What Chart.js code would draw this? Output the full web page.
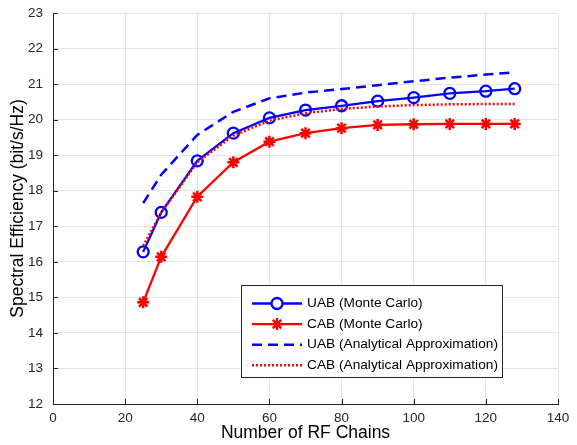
<!DOCTYPE html>
<html>
<head>
<meta charset="utf-8">
<script src="https://cdn.jsdelivr.net/npm/chart.js@4.4.1/dist/chart.umd.min.js"></script>
<style>
  html, body { margin: 0; padding: 0; background: #fff; }
  #wrap { width: 577px; height: 445px; }
</style>
</head>
<body>
<div id="wrap"><canvas id="myChart" width="577" height="445"></canvas></div>
<script>
// data
const chains = [25, 30, 40, 50, 60, 70, 80, 90, 100, 110, 120, 128];
const uabMonteCarlo = [16.28, 17.39, 18.84, 19.62, 20.05, 20.27, 20.39, 20.52, 20.62, 20.74, 20.80, 20.87];
const cabMonteCarlo = [14.86, 16.14, 17.83, 18.80, 19.38, 19.62, 19.76, 19.85, 19.87, 19.88, 19.88, 19.88];
const uabAnalytical = [17.65, 18.45, 19.57, 20.22, 20.60, 20.76, 20.86, 20.97, 21.08, 21.18, 21.27, 21.33];
const cabAnalytical = [16.45, 17.38, 18.80, 19.55, 19.97, 20.18, 20.30, 20.37, 20.41, 20.43, 20.44, 20.44];

const labels = [
  "UAB (Monte Carlo)",
  "CAB (Monte Carlo)",
  "UAB (Analytical Approximation)",
  "CAB (Analytical Approximation)"
];

const FONT = "'Liberation Sans', Arial, sans-serif";
const AXIS = "#262626";

function pts(ys) {
  return chains.map((x, i) => ({ x: x, y: ys[i] }));
}

// matlab style inward ticks
const innerTicks = {
  id: "innerTicks",
  afterDraw(chart) {
    const ctx = chart.ctx;
    const xs = chart.scales.x, ys = chart.scales.y;
    const a = chart.chartArea;
    ctx.save();
    ctx.strokeStyle = AXIS;
    ctx.lineWidth = 1;
    ctx.beginPath();
    xs.ticks.forEach(t => {
      const px = Math.round(xs.getPixelForValue(t.value)) + 0.5;
      ctx.moveTo(px, a.bottom);
      ctx.lineTo(px, a.bottom - 5);
    });
    ys.ticks.forEach(t => {
      const py = Math.round(ys.getPixelForValue(t.value)) + 0.5;
      ctx.moveTo(a.left, py);
      ctx.lineTo(a.left + 5, py);
    });
    ctx.stroke();
    ctx.restore();
  }
};

// legend box inside the plot, like the matlab one
const boxLegend = {
  id: "boxLegend",
  afterDraw(chart) {
    const ctx = chart.ctx;
    const bx = 241.5, by = 285.5, bw = 261, bh = 92;
    ctx.save();
    ctx.fillStyle = "#fff";
    ctx.fillRect(bx, by, bw, bh);
    ctx.strokeStyle = AXIS;
    ctx.lineWidth = 1;
    ctx.strokeRect(bx, by, bw, bh);

    chart.data.datasets.forEach((ds, i) => {
      const y = 303.5 + i * 20.6;
      ctx.strokeStyle = ds.borderColor;
      ctx.lineWidth = ds.borderWidth;
      ctx.setLineDash(ds.borderDash || []);
      ctx.beginPath();
      ctx.moveTo(252, y);
      ctx.lineTo(302, y);
      ctx.stroke();
      ctx.setLineDash([]);
      const cx = 277, r = ds.pointRadius;
      if (ds.pointStyle === "circle" && r > 0) {
        ctx.fillStyle = "#fff";
        ctx.beginPath();
        ctx.arc(cx, y, r, 0, Math.PI * 2);
        ctx.fill();
        ctx.stroke();
      } else if (ds.pointStyle === "star" && r > 0) {
        ctx.beginPath();
        for (let k = 0; k < 4; k++) {
          const ang = k * Math.PI / 4;
          ctx.moveTo(cx - Math.cos(ang) * r, y - Math.sin(ang) * r);
          ctx.lineTo(cx + Math.cos(ang) * r, y + Math.sin(ang) * r);
        }
        ctx.stroke();
      }
      ctx.fillStyle = "#000";
      ctx.font = "13.7px " + FONT;
      ctx.textBaseline = "middle";
      ctx.fillText(labels[i], 307, y);
    });
    ctx.restore();
  }
};

const ctx = document.getElementById("myChart").getContext("2d");

new Chart(ctx, {
  type: "line",
  data: {
    datasets: [
      {
        label: labels[0],
        data: pts(uabMonteCarlo),
        borderColor: "#0000ff",
        backgroundColor: "rgba(0,0,0,0)",
        borderWidth: 2.3,
        pointStyle: "circle",
        pointRadius: 5.5,
        pointBorderWidth: 2.3,
        pointBackgroundColor: "rgba(0,0,0,0)",
        pointBorderColor: "#0000ff",
        order: 1
      },
      {
        label: labels[1],
        data: pts(cabMonteCarlo),
        borderColor: "#ff0000",
        backgroundColor: "rgba(0,0,0,0)",
        borderWidth: 2.3,
        pointStyle: "star",
        pointRadius: 6,
        pointBorderWidth: 2.5,
        pointBorderColor: "#ff0000",
        order: 2
      },
      {
        label: labels[2],
        data: pts(uabAnalytical),
        borderColor: "#0000ff",
        backgroundColor: "rgba(0,0,0,0)",
        borderWidth: 2.5,
        borderDash: [10, 6],
        pointRadius: 0,
        order: 3
      },
      {
        label: labels[3],
        data: pts(cabAnalytical),
        borderColor: "#ff0000",
        backgroundColor: "rgba(0,0,0,0)",
        borderWidth: 2.5,
        borderDash: [2, 2],
        pointRadius: 0,
        order: 0
      }
    ]
  },
  options: {
    responsive: false,
    animation: false,
    layout: { padding: { left: 0, right: 19, top: 13, bottom: 0 } },
    plugins: {
      legend: { display: false },
      tooltip: { enabled: false }
    },
    scales: {
      x: {
        type: "linear",
        min: 0,
        max: 140,
        ticks: { stepSize: 20, color: AXIS, font: { family: FONT, size: 13.5 }, padding: 6, maxRotation: 0 },
        grid: { color: "#e5e5e5", drawTicks: false },
        border: { color: AXIS, width: 1 },
        title: { display: true, text: "Number of RF Chains", color: "#000", font: { family: FONT, size: 17.5 }, padding: { top: 0, bottom: 1 } },
        afterFit(scale) { scale.height = 41; scale.paddingLeft = 0; scale.paddingRight = 0; }
      },
      y: {
        min: 12,
        max: 23,
        ticks: { stepSize: 1, color: AXIS, font: { family: FONT, size: 13.5 }, padding: 10 },
        grid: { color: "#e5e5e5", drawTicks: false },
        border: { color: AXIS, width: 1 },
        title: { display: true, text: "Spectral Efficiency (bit/s/Hz)", color: "#000", font: { family: FONT, size: 17.5 }, padding: { top: 8, bottom: 0 } },
        afterFit(scale) { scale.width = 53; scale.paddingTop = 0; scale.paddingBottom = 0; }
      }
    }
  },
  plugins: [innerTicks, boxLegend]
});
</script>
</body>
</html>
